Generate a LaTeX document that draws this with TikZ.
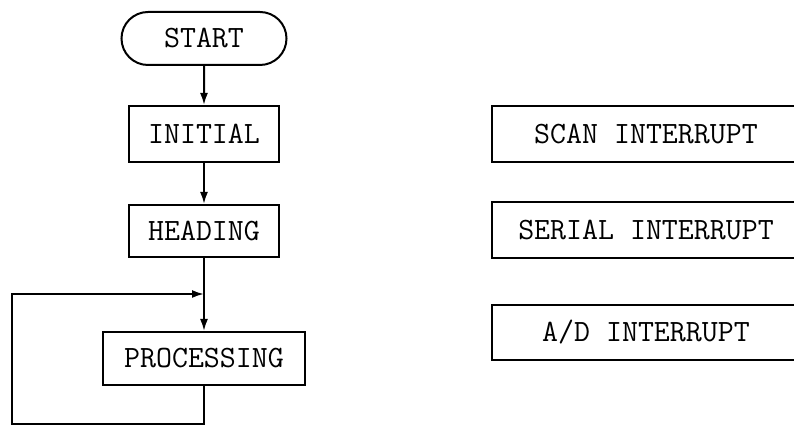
\documentclass[tikz,border=0pt]{standalone}
\usepackage{xcolor}
\usepackage{tikz}
\usetikzlibrary{calc}
\usetikzlibrary{positioning}
\usetikzlibrary{arrows.meta}
\usetikzlibrary{shapes.misc}

\begin{document}
\begin{tikzpicture}[x=0.5pt,y=-0.5pt,line width=1pt]
  \tikzset{every node/.style={font=\fontsize{15.5}{17}\ttfamily,text centered,inner sep=0pt,draw}};
  \tikzset{box/.style={rectangle,minimum height=28pt}};
  \tikzset{arr/.style={-{Latex[length=6pt,width=4pt]}}};
  \useasboundingbox (0,0) rectangle (794,426);
  \clip (0,0) rectangle (794,426);
  % main chain
  \node [rounded rectangle, minimum width=82.5pt, minimum height=26.5pt] (start) at (204,38.5) {START};
  \node [box, minimum width=75pt] (init) at (204,134) {INITIAL};
  \node [box, minimum width=75pt, minimum height=26pt] (head) at (204,231) {HEADING};
  \node [box, minimum width=101pt, minimum height=26.5pt] (proc) at (204,358.5) {PROCESSING};
  % interrupts
  \node [box, minimum width=154pt] (scan) at (646,134.5) {SCAN INTERRUPT};
  \node [box, minimum width=154pt] (serial) at (646,230) {SERIAL INTERRUPT};
  \node [box, minimum width=154pt, minimum height=27.5pt] (adint) at (646,332.5) {A/D INTERRUPT};
  \coordinate (join) at (204,294);
  \coordinate (loopc) at (12,424);
  \draw[arr] (start) -- (init);
  \draw[arr] (init) -- (head);
  \draw (head) -- (join);
  \draw[arr] (join) -- (proc);
  \draw[arr] (proc.south) |- (loopc) |- (join);
\end{tikzpicture}
\end{document}
